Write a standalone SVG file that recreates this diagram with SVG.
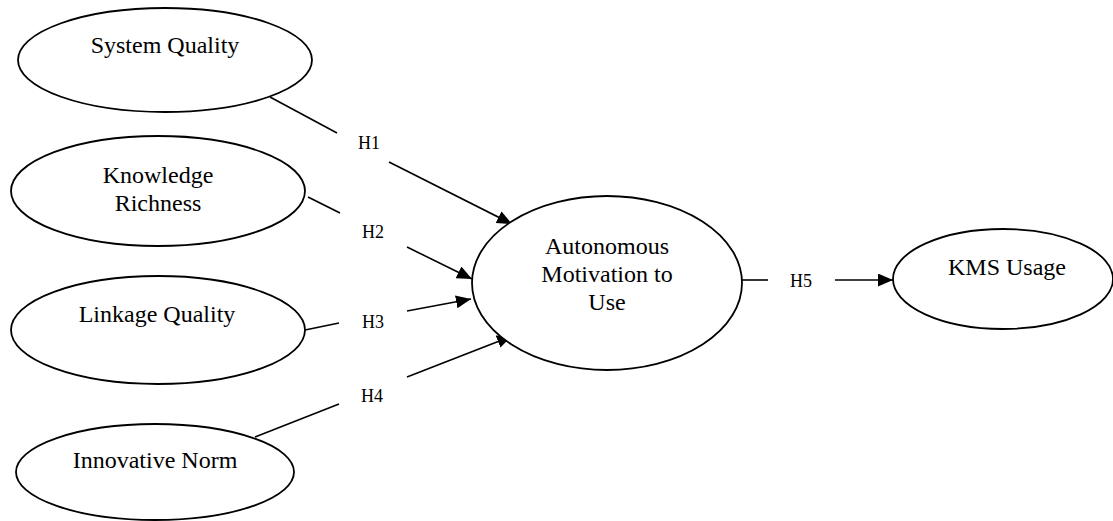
<svg xmlns="http://www.w3.org/2000/svg" width="1113" height="521" viewBox="0 0 1113 521">
<style>
.node ellipse{fill:#fff;stroke:#000;stroke-width:1.8}
.node text{font-family:"Liberation Serif","Times New Roman",serif;font-size:24px;fill:#000;text-anchor:middle}
.lbl{font-family:"Liberation Serif","Times New Roman",serif;font-size:18px;fill:#000;text-anchor:middle}
#connectors line{stroke:#000;stroke-width:1.6;fill:none}
</style>
<defs>
<marker id="arr" markerUnits="userSpaceOnUse" markerWidth="16" markerHeight="14" refX="15" refY="6.5" orient="auto">
<path d="M0,0 L15,6.5 L0,13 z" fill="#000"/>
</marker>
</defs>
<rect width="1113" height="521" fill="#fff"/>
<g id="connectors">
<line x1="270" y1="97" x2="337" y2="133"/>
<line x1="389" y1="162" x2="512" y2="224" marker-end="url(#arr)"/>
<line x1="308" y1="197" x2="340" y2="213"/>
<line x1="407" y1="247" x2="472" y2="279" marker-end="url(#arr)"/>
<line x1="305" y1="330" x2="339" y2="323"/>
<line x1="407" y1="311" x2="471" y2="299" marker-end="url(#arr)"/>
<line x1="255" y1="437" x2="339" y2="404"/>
<line x1="407" y1="377" x2="512" y2="336" marker-end="url(#arr)"/>
<line x1="742" y1="280" x2="768" y2="280"/>
<line x1="835" y1="280" x2="893" y2="280" marker-end="url(#arr)"/>
<text class="lbl" x="369" y="149">H1</text>
<text class="lbl" x="373" y="238">H2</text>
<text class="lbl" x="373" y="328">H3</text>
<text class="lbl" x="372" y="402">H4</text>
<text class="lbl" x="801" y="287">H5</text>
</g>
<g id="system-quality" class="node">
<ellipse cx="165" cy="60" rx="147" ry="52"/>
<text x="165" y="53">System Quality</text>
</g>
<g id="knowledge-richness" class="node">
<ellipse cx="158" cy="191" rx="147" ry="55"/>
<text x="158" y="183">Knowledge</text>
<text x="158" y="211">Richness</text>
</g>
<g id="linkage-quality" class="node">
<ellipse cx="158" cy="330" rx="147" ry="54"/>
<text x="157" y="322">Linkage Quality</text>
</g>
<g id="innovative-norm" class="node">
<ellipse cx="155" cy="472" rx="139" ry="48"/>
<text x="155" y="468">Innovative Norm</text>
</g>
<g id="autonomous-motivation" class="node">
<ellipse cx="607" cy="283" rx="135" ry="87"/>
<text x="607" y="254">Autonomous</text>
<text x="607" y="282">Motivation to</text>
<text x="607" y="310">Use</text>
</g>
<g id="kms-usage" class="node">
<ellipse cx="1003" cy="279" rx="110" ry="50"/>
<text x="1007" y="275">KMS Usage</text>
</g>
</svg>
